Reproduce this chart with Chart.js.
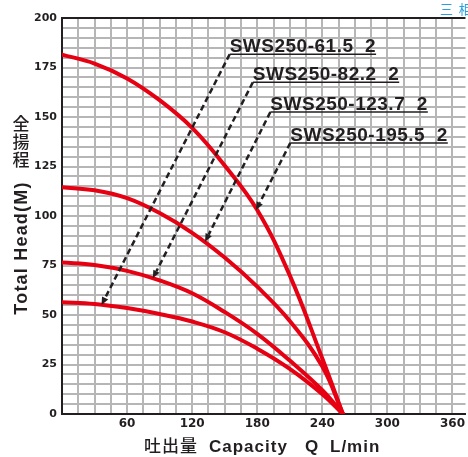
<!DOCTYPE html>
<html><head><meta charset="utf-8">
<script src="https://cdn.jsdelivr.net/npm/chart.js@4/dist/chart.umd.min.js"></script>
<style>html,body{margin:0;padding:0;background:#fff}#wrap{width:468px;height:457px;position:relative}</style>
</head><body><div id="wrap"><canvas id="c" width="468" height="457"></canvas></div>
<script>
// ---- data ----
const flowQ   = [0, 30, 60, 90, 120, 150, 180, 210, 240, 259];
const head195 = [181.5, 177, 169.5, 158.5, 144.5, 125.5, 103, 70, 28, 0];
const head123 = [114.5, 113, 109, 101.5, 91.5, 79, 64.3, 47, 24, 0];
const head82  = [76.5, 75.3, 72.3, 67.5, 61, 51.5, 40.5, 27, 12, 0];
const head61  = [56.5, 55.6, 53.5, 50.5, 46.7, 41.3, 33, 22.8, 10, 0];

const modelNames   = ['SWS250-61.5  2', 'SWS250-82.2  2', 'SWS250-123.7  2', 'SWS250-195.5  2'];
const labelAnchorQ = [154.6, 175.9, 192.1, 210.5];
const labelAnchorH = [181.7, 167.5, 152.5, 136.9];
const arrowTipQ    = [36.4, 83.7, 131.9, 178.9];
const arrowTipH    = [55, 68.5, 87, 103];

const xTickLabels = [60, 120, 180, 240, 300, 360];
const yTickLabels = [0, 25, 50, 75, 100, 125, 150, 175, 200];

const INK = '#231f20';
const RED = '#e60012';
const GRID = '#b6b6b6';

function pts(ys){ return flowQ.map((q,i)=>({x:q, y:ys[i]})); }

const annot = {
  id: 'annot',
  afterDatasetsDraw(chart){
    const ctx = chart.ctx, xs = chart.scales.x, ys = chart.scales.y;
    ctx.save();
    for (let i=0;i<modelNames.length;i++){
      const sx = xs.getPixelForValue(labelAnchorQ[i]);
      const sy = ys.getPixelForValue(labelAnchorH[i]);
      const tx = xs.getPixelForValue(arrowTipQ[i]);
      const ty = ys.getPixelForValue(arrowTipH[i]);
      ctx.font = 'bold 19px "Liberation Sans", Arial, sans-serif';
      ctx.letterSpacing = '0.5px';
      ctx.fillStyle = INK;
      ctx.textAlign = 'left';
      ctx.textBaseline = 'alphabetic';
      ctx.fillText(modelNames[i], sx, sy - 2);
      const w = ctx.measureText(modelNames[i]).width;
      ctx.strokeStyle = INK;
      ctx.lineWidth = 1.5;
      ctx.setLineDash([]);
      ctx.beginPath(); ctx.moveTo(sx, sy); ctx.lineTo(sx + w, sy); ctx.stroke();
      const ang = Math.atan2(ty - sy, tx - sx);
      const hl = 8, hw = 3.5;
      const bx = tx - hl*Math.cos(ang), by = ty - hl*Math.sin(ang);
      ctx.lineWidth = 2.5;
      ctx.setLineDash([6, 3.5]);
      ctx.beginPath(); ctx.moveTo(sx, sy); ctx.lineTo(bx, by); ctx.stroke();
      ctx.setLineDash([]);
      ctx.beginPath();
      ctx.moveTo(tx, ty);
      ctx.lineTo(bx + hw*Math.sin(ang), by - hw*Math.cos(ang));
      ctx.lineTo(bx - hw*Math.sin(ang), by + hw*Math.cos(ang));
      ctx.closePath(); ctx.fill();
    }
    ctx.restore();
  },
  afterDraw(chart){
    const ctx = chart.ctx;
    ctx.save();
    ctx.fillStyle = INK;
    ctx.save();
    ctx.translate(27, 248);
    ctx.rotate(-Math.PI/2);
    ctx.font = 'bold 18px "Liberation Sans", Arial, sans-serif';
    ctx.letterSpacing = '1.2px';
    ctx.textAlign = 'center';
    ctx.textBaseline = 'alphabetic';
    ctx.fillText('Total Head(M)', 0, 0);
    ctx.restore();
    ctx.font = '500 17px "Noto Sans CJK JP", sans-serif';
    ctx.textAlign = 'center';
    ctx.textBaseline = 'middle';
    ['全','揚','程'].forEach((c,k)=>ctx.fillText(c, 21, 124 + k*18));
    ctx.letterSpacing = '1px';
    ctx.textAlign = 'left';
    ctx.textBaseline = 'alphabetic';
    ctx.font = '500 17px "Noto Sans CJK JP", sans-serif';
    ctx.fillText('吐出量', 144, 452);
    ctx.font = 'bold 17px "Liberation Sans", Arial, sans-serif';
    ctx.fillText('Capacity', 209, 452);
    ctx.fillText('Q', 305, 452);
    ctx.fillText('L/min', 330, 452);
    ctx.letterSpacing = '0px';
    ctx.fillStyle = '#2a9fe0';
    ctx.font = '13px "Noto Sans CJK JP", sans-serif';
    ctx.textBaseline = 'middle';
    ctx.fillText('三  相', 440, 9);
    ctx.restore();
  }
};

new Chart(document.getElementById('c'), {
  type: 'line',
  data: {
    datasets: [
      {label: 'SWS250-195.5', data: pts(head195)},
      {label: 'SWS250-123.7', data: pts(head123)},
      {label: 'SWS250-82.2',  data: pts(head82)},
      {label: 'SWS250-61.5',  data: pts(head61)}
    ].map(d => Object.assign(d, {
      borderColor: RED, borderWidth: 4, pointRadius: 0,
      tension: 0.4, fill: false, borderCapStyle: 'round'
    }))
  },
  plugins: [annot],
  options: {
    responsive: false,
    animation: false,
    devicePixelRatio: 1,
    layout: {padding: {top: 18, left: 0, right: 0, bottom: 0}},
    plugins: {legend: {display: false}, tooltip: {enabled: false}},
    scales: {
      x: {
        type: 'linear', min: 0, max: 372,
        afterFit(s){ s.height = 43; },
        border: {color: INK, width: 2},
        grid: {color: GRID, lineWidth: 2, drawTicks: false},
        ticks: {
          stepSize: 15, autoSkip: false, maxRotation: 0, padding: 3, includeBounds: false,
          color: INK, font: {family: 'DejaVu Sans', weight: 'bold', size: 12},
          callback: v => xTickLabels.includes(v) ? String(v) : ''
        }
      },
      y: {
        type: 'linear', min: 0, max: 200,
        afterFit(s){ s.width = 62; },
        border: {color: INK, width: 2},
        grid: {
          color: c => c.tick && c.tick.value === 200 ? INK : GRID,
          lineWidth: 2, drawTicks: false
        },
        ticks: {
          stepSize: 5, autoSkip: false, padding: 5,
          color: INK, font: {family: 'DejaVu Sans', weight: 'bold', size: 11},
          callback: v => yTickLabels.includes(v) ? String(v) : ''
        }
      }
    }
  }
});
</script></body></html>
